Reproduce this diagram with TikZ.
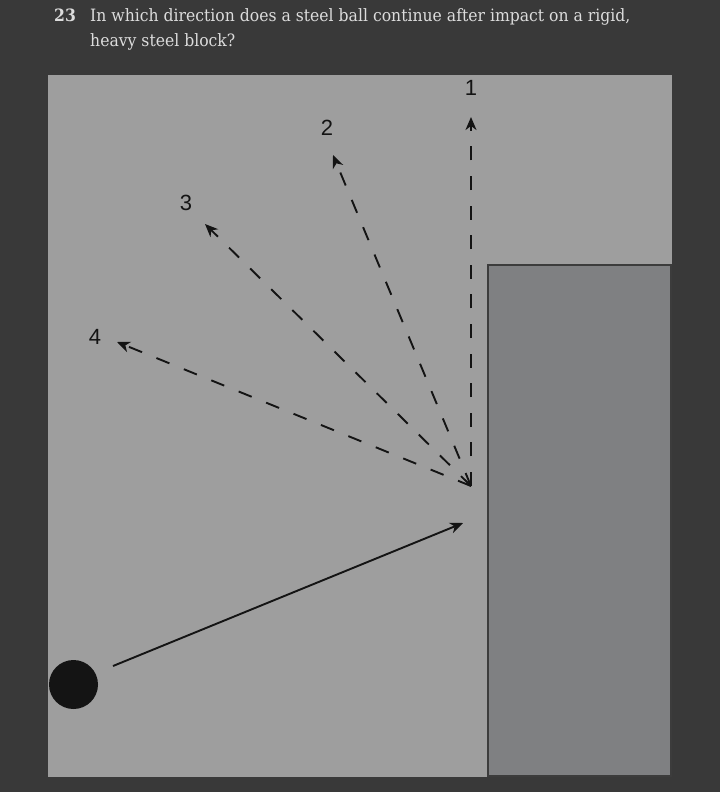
\documentclass[tikz,border=0pt]{standalone}
\usepackage{fontspec}
\setmainfont{DejaVu Serif}[FakeStretch=0.92]
\setsansfont{Liberation Sans}
\usetikzlibrary{arrows.meta}
\definecolor{bgdark}{HTML}{393939}
\definecolor{panel}{HTML}{9E9E9E}
\definecolor{blockfill}{HTML}{7F8082}
\definecolor{blockedge}{HTML}{3C3C3C}
\definecolor{titletext}{HTML}{DCDCDC}
\definecolor{ink}{HTML}{141414}
\begin{document}
\begin{tikzpicture}[x=1pt,y=-1pt,
  arr/.style={-{Stealth[length=13pt,width=11pt,inset=4pt]}, line width=1.9pt, draw=ink},
  dsh/.style={arr, dash pattern=on 14pt off 15.6pt},
  lbl/.style={font=\sffamily\fontsize{22}{22}\selectfont, text=ink, inner sep=0pt},
  title/.style={font=\fontsize{17}{20}\selectfont, text=titletext, inner sep=0pt, anchor=base west}]
\fill[bgdark] (0,0) rectangle (720,792);
\useasboundingbox (0,0) rectangle (720,792);
% title
\node[title, font=\bfseries\fontsize{17}{20}\selectfont] (num) at (54,22) {23};
\node[title] (q1) at (90,22) {In which direction does a steel ball continue after impact on a rigid,};
\node[title] (q2) at (90,47) {heavy steel block?};
% panel and block
\fill[panel] (48,75) rectangle (672,777);
\draw[blockedge, fill=blockfill, line width=2pt] (488,265) rectangle (671,776);
% ball and incoming path
\node[circle, fill=ink, minimum size=49pt, inner sep=0pt] (ball) at (73.5,684.5) {};
\coordinate (s) at (113,666);
\coordinate (hit) at (463,523);
\draw[arr] (s) -- (hit);
% outgoing options
\coordinate (O) at (471,486);
\coordinate (t1) at (471,117);
\coordinate (t2) at (333,155);
\coordinate (t3) at (205,224);
\coordinate (t4) at (117,342);
\draw[dsh] (O) -- (t1);
\draw[dsh] (O) -- (t2);
\draw[dsh] (O) -- (t3);
\draw[dsh] (O) -- (t4);
\node[lbl] (n1) at (471,88) {1};
\node[lbl] (n2) at (327,127.5) {2};
\node[lbl] (n3) at (186,203) {3};
\node[lbl] (n4) at (95,336.5) {4};
\end{tikzpicture}
\end{document}
